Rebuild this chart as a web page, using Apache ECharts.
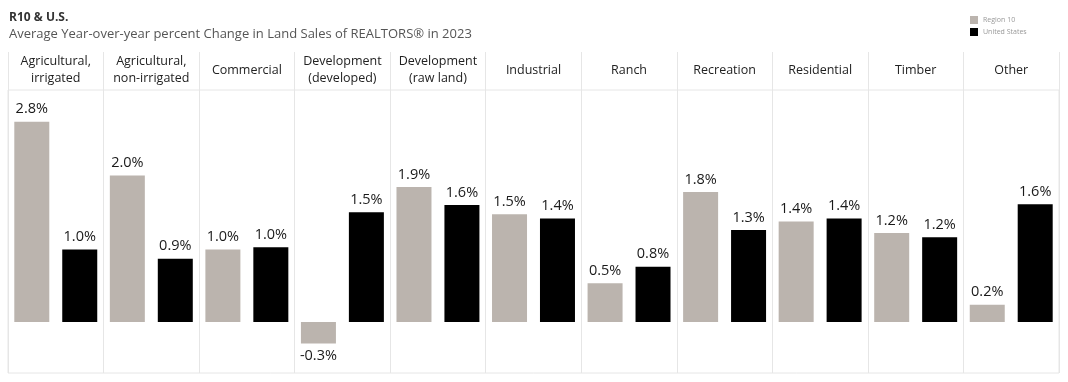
<!DOCTYPE html>
<html><head><meta charset="utf-8">
<script src="https://cdn.jsdelivr.net/npm/echarts@6/dist/echarts.min.js"></script>
<style>html,body{margin:0;padding:0;background:#fff}#c{width:1068px;height:382px}</style>
</head><body><div id="c"></div>
<script>
var categories = ['Agricultural,\nirrigated','Agricultural,\nnon-irrigated','Commercial','Development\n(developed)','Development\n(raw land)','Industrial','Ranch','Recreation','Residential','Timber','Other'];
var region10 = [2.79, 2.04, 1.01, -0.30, 1.88, 1.50, 0.54, 1.81, 1.40, 1.24, 0.24];
var unitedStates = [1.01, 0.88, 1.04, 1.53, 1.63, 1.44, 0.77, 1.28, 1.44, 1.18, 1.64];
var seriesNames = ['Region 10', 'United States'];

var FONT = 'Open Sans';
function toData(arr){
  return arr.map(function(v){
    return {value: v, label: {position: v < 0 ? 'bottom' : 'top'}};
  });
}
var labelStyle = {show: true, formatter: function(p){return p.value.toFixed(1) + '%';}, fontSize: 14.5, color: '#1a1a1a', fontFamily: FONT, distance: 5};

var chart = echarts.init(document.getElementById('c'), null, {renderer: 'canvas'});
chart.setOption({
  animation: false,
  title: {
    text: 'R10 & U.S.', subtext: 'Average Year-over-year percent Change in Land Sales of REALTORS® in 2023',
    left: 4, top: 7, itemGap: 4,
    textStyle: {fontSize: 12, fontWeight: 'bold', color: '#333', fontFamily: FONT},
    subtextStyle: {fontSize: 13, color: '#555', fontFamily: FONT}
  },
  legend: {
    orient: 'vertical', left: 965, top: 11, itemWidth: 8, itemHeight: 8, itemGap: 4,
    icon: 'rect', textStyle: {fontSize: 7, color: '#999', fontFamily: FONT},
    data: seriesNames
  },
  grid: [
    {left: 8, right: 9, top: 90, bottom: 9, show: true, borderColor: '#e6e6e6', borderWidth: 1},
    {left: 8, right: 9, top: 52, height: 38}
  ],
  xAxis: [
    {type: 'category', gridIndex: 0, position: 'top', data: categories,
     axisLine: {show: false}, axisTick: {show: false},
     axisLabel: {margin: 20, verticalAlign: 'middle', fontSize: 12.5, lineHeight: 17, color: '#222', fontFamily: FONT, interval: 0},
     splitLine: {show: true, interval: 0, lineStyle: {color: '#e6e6e6', width: 1}}},
    {type: 'category', gridIndex: 1, data: categories,
     axisLine: {show: false}, axisTick: {show: false}, axisLabel: {show: false},
     splitLine: {show: true, interval: 0, lineStyle: {color: '#e6e6e6', width: 1}}}
  ],
  yAxis: [
    {type: 'value', gridIndex: 0, min: -0.71, max: 3.231, show: false, splitLine: {show: false}},
    {type: 'value', gridIndex: 1, show: false}
  ],
  series: [
    {name: seriesNames[0], type: 'bar', xAxisIndex: 0, yAxisIndex: 0, data: toData(region10),
     barWidth: 35, barGap: '37%', itemStyle: {color: '#bbb4ae'}, label: labelStyle},
    {name: seriesNames[1], type: 'bar', xAxisIndex: 0, yAxisIndex: 0, data: toData(unitedStates),
     barWidth: 35, barGap: '37%', itemStyle: {color: '#000'}, label: labelStyle}
  ]
});
</script></body></html>
